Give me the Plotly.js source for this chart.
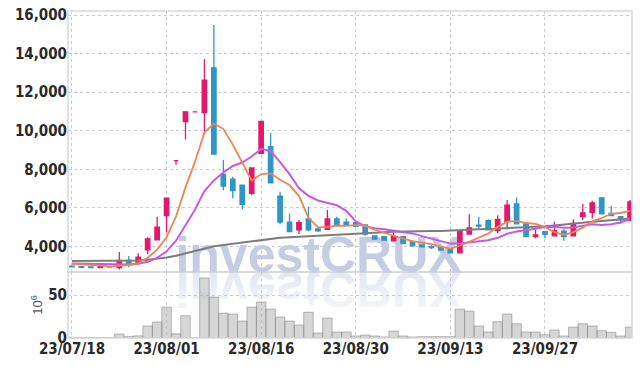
<!DOCTYPE html>
<html>
<head>
<meta charset="utf-8">
<script src="https://cdn.plot.ly/plotly-3.0.1.min.js"></script>
<style>
html,body{margin:0;padding:0;background:#fff;}
#chart{width:642px;height:367px;}
</style>
</head>
<body>
<div id="chart"></div>
<script>
var dates = ['23/07/18','23/07/19','23/07/20','23/07/21','23/07/24','23/07/25','23/07/26','23/07/27','23/07/28','23/07/31',
'23/08/01','23/08/02','23/08/03','23/08/04','23/08/07','23/08/08','23/08/09','23/08/10','23/08/11','23/08/14',
'23/08/16','23/08/17','23/08/18','23/08/21','23/08/22','23/08/23','23/08/24','23/08/25','23/08/28','23/08/29',
'23/08/30','23/08/31','23/09/01','23/09/04','23/09/05','23/09/06','23/09/07','23/09/08','23/09/11','23/09/12',
'23/09/13','23/09/14','23/09/15','23/09/18','23/09/19','23/09/20','23/09/21','23/09/22','23/09/25','23/09/26',
'23/09/27','23/10/04','23/10/05','23/10/06','23/10/10','23/10/11','23/10/12','23/10/13','23/10/16','23/10/17'];

var openP  = [2970,2940,2930,2890,2950,2900,3270,3120,3820,4340,
5590,8450,10470,10980,10940,13260,7750,7490,7180,6750,
8830,9170,6610,5250,4850,5420,4910,4880,5420,5250,
5230,5110,4540,4500,4290,4500,4240,4070,3980,3960,
3880,3660,4640,5100,5330,4810,5280,6200,5160,4500,
4760,4540,4790,4540,5540,5760,6520,5710,5540,5330];
var highP  = [2990,2960,2950,3000,2980,3700,3500,3640,4470,5540,
6500,8450,10980,10980,13710,15490,8480,7610,7200,8080,
10500,9900,6830,5710,5370,6060,4930,5890,5540,5450,
5250,5120,4550,4510,4820,4520,4260,4090,4050,3980,
3890,4800,5660,5540,5400,5610,6400,6540,5170,4880,
4770,5280,4880,5400,6200,6370,6530,6090,5550,6400];
var lowP   = [2920,2890,2880,2880,2900,2800,2910,3060,3590,4330,
4720,8230,9550,10980,9950,8790,6910,6490,5920,6660,
8800,7300,5140,4730,4640,4790,4740,4850,5020,5120,
5030,4550,4360,4300,4280,4140,4000,3940,3860,3800,
3650,3650,4600,4850,4840,4680,4880,5150,4490,4420,
4410,4530,4290,4530,5360,5450,5670,5580,5160,5320];
var closeP = [2940,2910,2900,2990,2920,3270,3050,3440,4380,5000,
6500,8450,10980,10980,12630,8790,7130,6890,6180,8070,
10490,7300,5260,4760,5230,4850,4800,5420,5110,5140,
5040,4640,4370,4320,4500,4160,4020,3970,3930,3810,
3660,4780,4950,5050,4850,5400,6140,5160,4500,4590,
4620,4810,4500,5190,5740,6260,5680,5590,5370,6300];

var ma5  = [3090,3070,3040,3000,2960,3000,3030,3130,3410,3830,
4470,5550,7060,8380,9910,10370,10100,9280,8320,7410,
7750,7790,7460,7180,6610,5480,4980,5010,5080,5060,
5100,5070,4860,4700,4570,4400,4270,4190,4120,3980,
3880,4030,4230,4450,4660,5010,5280,5320,5210,5160,
5000,4740,4600,4740,4970,5300,5470,5690,5730,5840];
var ma10 = [3110,3100,3090,3080,3060,3050,3050,3090,3200,3400,
3740,4290,5100,5900,6870,7420,7830,8170,8350,8660,
9060,8940,8370,7750,7010,6620,6380,6240,6130,5840,
5290,5030,4940,4890,4820,4750,4670,4530,4410,4280,
4140,4150,4210,4280,4320,4440,4650,4770,4830,4910,
5000,5010,4960,4980,5070,5150,5110,5150,5240,5410];
var ma60 = [3240,3240,3240,3240,3240,3245,3250,3270,3300,3350,
3420,3510,3630,3760,3900,4000,4070,4130,4190,4250,
4340,4400,4440,4470,4500,4530,4560,4590,4620,4650,
4670,4690,4710,4730,4750,4770,4780,4790,4800,4800,
4810,4830,4850,4880,4900,4920,4950,4970,4990,5010,
5040,5080,5120,5170,5220,5270,5320,5360,5400,5450];

var volume = [0.4,0.3,0.3,0.4,0.3,4.6,1.6,2.5,14,18.6,
36,4.9,26,0.3,70,47.7,29,27.9,19.8,36,
41.9,33.7,24.4,19.8,15.1,30,5.8,23.3,7,7,
2.3,3.5,2.3,1.2,8,2.3,1.2,1.5,1.5,1.5,
1.5,33.7,31.4,14,7,19,28,16.6,7,7,
3.8,9.3,2.3,12.8,16.6,14,8.5,6.6,2.3,12.8];

var tickDates = ['23/07/18','23/08/01','23/08/16','23/08/30','23/09/13','23/09/27'];
var priceTicks = [4000,6000,8000,10000,12000,14000,16000];
var volTicks = [0,50];

var UP = '#e2186c', DOWN = '#2f97c8';
var tickFont = {family:'"Liberation Sans Narrow","DejaVu Sans Condensed",sans-serif', size:15, color:'#2a2a2a', weight:'bold'};
var gridC = '#c9cdd9';

var data = [
  {type:'bar', x:dates, y:volume, xaxis:'x', yaxis:'y2',
   marker:{color:'rgba(165,165,165,0.45)', line:{color:'rgba(140,140,140,0.6)', width:1}},
   hoverinfo:'skip', showlegend:false},
  {type:'scatter', mode:'lines', x:dates, y:ma60, xaxis:'x', yaxis:'y',
   line:{color:'#7d7d7d', width:2}, hoverinfo:'skip', showlegend:false},
  {type:'scatter', mode:'lines', x:dates, y:ma10, xaxis:'x', yaxis:'y',
   line:{color:'#c65ae6', width:2}, hoverinfo:'skip', showlegend:false},
  {type:'scatter', mode:'lines', x:dates, y:ma5, xaxis:'x', yaxis:'y',
   line:{color:'#ee8552', width:1.8}, hoverinfo:'skip', showlegend:false},
  {type:'candlestick', x:dates, open:openP, high:highP, low:lowP, close:closeP, xaxis:'x', yaxis:'y',
   increasing:{line:{color:UP, width:1.3}, fillcolor:UP},
   decreasing:{line:{color:DOWN, width:1.3}, fillcolor:DOWN},
   whiskerwidth:0, hoverinfo:'skip', showlegend:false}
];

var split = 0.2018;
var layout = {
  width:642, height:367,
  margin:{l:68, r:10, t:11, b:29},
  paper_bgcolor:'#fff', plot_bgcolor:'#fff',
  showlegend:false,
  boxgap:0.33,
  bargap:0,
  xaxis:{type:'category', anchor:'y2', range:[-0.42, 59.2], rangeslider:{visible:false},
    tickmode:'array', tickvals:tickDates, ticktext:tickDates,
    showgrid:true, gridcolor:gridC, griddash:'dot', gridwidth:1,
    zeroline:false, showline:false, ticks:'', tickfont:tickFont, fixedrange:true},
  yaxis:{domain:[split,1], range:[2666,16217], tickmode:'array', tickvals:priceTicks, tickformat:',d',
    showgrid:true, gridcolor:gridC, griddash:'dot', gridwidth:1, zeroline:false, showline:false,
    ticks:'', tickfont:tickFont, fixedrange:true},
  yaxis2:{domain:[0,split], range:[0,77], tickmode:'array', tickvals:volTicks,
    showgrid:true, gridcolor:gridC, griddash:'dot', gridwidth:1, zeroline:false, showline:false,
    ticks:'', tickfont:tickFont, fixedrange:true,
    title:{text:'10<sup>6</sup>', font:{family:'"Liberation Sans","DejaVu Sans",sans-serif', size:13, color:'#555'}, standoff:2}},
  shapes:[
    {type:'rect', xref:'paper', yref:'paper', x0:0, x1:1, y0:0, y1:1, line:{color:'#d9d9d9', width:1.5}, layer:'above'},
    {type:'line', xref:'paper', yref:'paper', x0:0, x1:1, y0:split, y1:split, line:{color:'#cfcfcf', width:1.5}, layer:'above'}
  ]
};

Plotly.newPlot('chart', data, layout, {displayModeBar:false, staticPlot:true}).then(function(gd){
  var ns = 'http://www.w3.org/2000/svg';
  var svg = gd.querySelector('.main-svg');
  var defs = document.createElementNS(ns, 'defs');
  defs.innerHTML = '<linearGradient id="wmfade" x1="0" y1="0" x2="0" y2="1">' +
    '<stop offset="0" stop-color="#f7f8fb"/><stop offset="1" stop-color="#dfe3ef"/></linearGradient>';
  var g = document.createElementNS(ns, 'g');
  g.setAttribute('class', 'watermark');
  g.appendChild(defs);
  var cx = 318.5, base = 272;
  function mk(fill, tr) {
    var t = document.createElementNS(ns, 'text');
    t.setAttribute('x', cx);
    t.setAttribute('y', base);
    t.setAttribute('text-anchor', 'middle');
    t.setAttribute('font-family', '"Liberation Sans", Arial, sans-serif');
    t.setAttribute('font-weight', 'bold');
    t.setAttribute('font-size', '50');
    t.setAttribute('fill', fill);
    if (tr) t.setAttribute('transform', tr);
    t.textContent = 'investCRUX';
    return t;
  }
  g.appendChild(mk('url(#wmfade)', 'translate(0,' + (2*base) + ') scale(1,-1)'));
  g.appendChild(mk('#c6cde3', null));
  var bg = svg.querySelector('.bglayer');
  if (bg) { bg.appendChild(g); }
  else { svg.insertBefore(g, svg.querySelector('.cartesianlayer')); }
});
</script>
</body>
</html>
